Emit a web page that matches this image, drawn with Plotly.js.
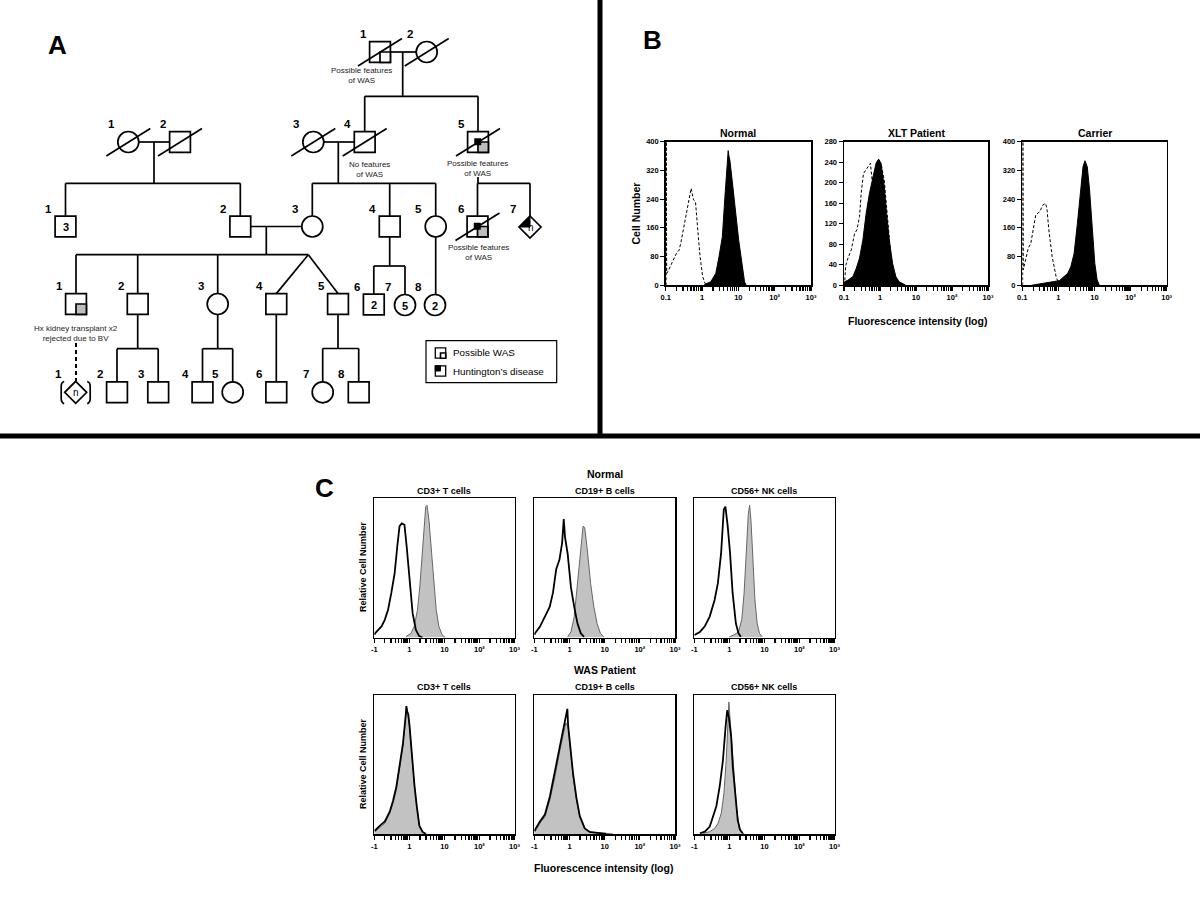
<!DOCTYPE html>
<html><head><meta charset="utf-8">
<script src="https://cdn.plot.ly/plotly-3.0.1.min.js"></script>
<style>body{margin:0;background:#fff}#chart{width:1200px;height:900px}</style>
</head><body><div id="chart"></div>
<script>
// ---------------- DATA ----------------
const decadeLabelsB = ['0.1', '1', '10', '10²', '10³'];
const decadeLabelsC = ['-1', '1', '10', '10²', '10³'];
const yTicksNormal = [0, 80, 160, 240, 320, 400];
const yTicksXLT = [0, 40, 80, 120, 160, 200, 240, 280];
const yTicksCarrier = [0, 80, 160, 240, 320, 400];
const panelBTitles = ['Normal', 'XLT Patient', 'Carrier'];
const panelCCellTypes = ['CD3+ T cells', 'CD19+ B cells', 'CD56+ NK cells'];
const panelCRows = ['Normal', 'WAS Patient'];

// Panel B (x in log10 units, y = cell number)
const bNormalCtrlLog = [-0.99, -0.985, -0.973, -0.93, -0.883, -0.793, -0.703, -0.63, -0.58, -0.52, -0.43, -0.39, -0.30, -0.234, -0.18, -0.117, -0.054, 0.018, 0.09, 0.13];
const bNormalCtrl    = [0, 400, 33, 40, 52, 70, 89, 98, 120, 154, 200, 224, 270, 238, 233, 154, 80, 24, 4, 0];
const bNormalWASpLog = [0.05, 0.108, 0.243, 0.378, 0.468, 0.559, 0.63, 0.694, 0.72, 0.74, 0.766, 0.829, 0.919, 1.009, 1.10, 1.17, 1.216];
const bNormalWASp    = [0, 4, 10, 33, 80, 135, 247, 358, 375, 360, 349, 293, 200, 126, 61, 10, 0];

const bXLTCtrlLog = [-0.985, -0.975, -0.954, -0.89, -0.798, -0.706, -0.642, -0.569, -0.523, -0.459, -0.385, -0.312, -0.266, -0.22, -0.156, -0.064, 0.028, 0.119, 0.211, 0.303, 0.394, 0.486, 0.55];
const bXLTCtrl    = [0, 36, 38, 53, 69, 101, 108, 134, 179, 218, 225, 234, 238, 205, 218, 231, 238, 205, 134, 56, 17, 3, 0];
const bXLTWASpLog = [-0.99, -0.982, -0.89, -0.752, -0.66, -0.569, -0.477, -0.385, -0.294, -0.202, -0.11, -0.06, -0.037, 0.028, 0.119, 0.183, 0.257, 0.349, 0.44, 0.532, 0.67, 0.716];
const bXLTWASp    = [0, 7, 10, 17, 33, 53, 88, 140, 179, 212, 238, 244, 246, 238, 192, 140, 88, 43, 17, 7, 1, 0];

const bCarrierCtrlLog = [-0.99, -0.985, -0.973, -0.909, -0.836, -0.764, -0.7, -0.627, -0.518, -0.427, -0.355, -0.318, -0.264, -0.173, -0.064, 0.0, 0.03];
const bCarrierCtrl    = [0, 400, 43, 71, 103, 117, 154, 196, 205, 224, 228, 214, 154, 80, 24, 4, 0];
const bCarrierWASpLog = [-0.75, -0.7, -0.518, -0.336, -0.155, 0.027, 0.164, 0.255, 0.345, 0.436, 0.527, 0.618, 0.682, 0.736, 0.8, 0.864, 0.936, 1.009, 1.073, 1.136];
const bCarrierWASp    = [0, 1, 4, 7, 10, 13, 24, 33, 52, 89, 173, 275, 330, 347, 330, 265, 154, 61, 15, 0];

// Panel C (relative cell number, %)
const cNormCD3OpenLog = [-0.99, -0.981, -0.888, -0.794, -0.701, -0.607, -0.514, -0.42, -0.346, -0.28, -0.215, -0.14, -0.075, 0.0, 0.093, 0.187, 0.28, 0.374];
const cNormCD3Open    = [2, 3, 5.5, 8, 12.7, 20, 32, 46, 65, 80, 82, 81, 65, 41, 17.5, 5.5, 1, 0];
const cNormCD3FillLog = [-0.093, 0.047, 0.14, 0.234, 0.3, 0.355, 0.411, 0.467, 0.505, 0.561, 0.636, 0.7, 0.766, 0.841, 0.935, 1.028];
const cNormCD3Fill    = [0.7, 3, 8, 20, 37, 56, 80, 94, 95, 84, 60.5, 37, 20, 8, 2, 0];

const cNormCD19OpenLog = [-0.99, -0.981, -0.842, -0.702, -0.563, -0.47, -0.377, -0.284, -0.209, -0.163, -0.126, -0.051, 0.042, 0.135, 0.228, 0.321, 0.414];
const cNormCD19Open    = [2, 3, 7.7, 15, 22, 32, 49, 56, 68, 85, 72, 60, 36, 22, 10, 3, 0.5];
const cNormCD19FillLog = [-0.051, 0.042, 0.135, 0.228, 0.321, 0.386, 0.433, 0.507, 0.6, 0.693, 0.786, 0.879, 0.972];
const cNormCD19Fill    = [0.5, 4, 15, 37, 63, 80, 79, 63, 39, 22, 10, 3, 0.5];

const cNormCD56OpenLog = [-0.99, -0.981, -0.841, -0.701, -0.561, -0.421, -0.327, -0.234, -0.159, -0.112, -0.047, 0.019, 0.093, 0.187, 0.262, 0.327];
const cNormCD56Open    = [1.5, 2, 4, 8, 15, 27, 39, 61, 92, 94, 80, 61, 32, 10, 3, 0.5];
const cNormCD56FillLog = [0.0, 0.14, 0.262, 0.355, 0.421, 0.486, 0.542, 0.579, 0.617, 0.673, 0.729, 0.794, 0.86, 0.935];
const cNormCD56Fill    = [0.5, 2, 4, 13, 32, 68, 89, 95, 84, 56, 27, 10, 3, 0.5];

const cWasCD3OpenLog = [-0.99, -0.981, -0.84, -0.7, -0.559, -0.465, -0.371, -0.277, -0.183, -0.108, -0.085, -0.061, -0.03, 0.005, 0.08, 0.146, 0.211, 0.286, 0.38, 0.474];
const cWasCD3Open    = [2, 2.5, 6, 9, 16, 24, 34, 48, 65, 84, 92, 88, 86, 78, 54, 35, 20, 6, 1.5, 0];
const cWasCD3FillLog = [-0.99, -0.981, -0.84, -0.7, -0.559, -0.465, -0.371, -0.277, -0.183, -0.108, -0.061, 0.005, 0.08, 0.146, 0.211, 0.286, 0.38, 0.474];
const cWasCD3Fill    = [1.5, 1.7, 5.3, 7.7, 15, 22, 32, 46, 63, 85, 90, 77, 53, 34, 20, 5, 1.2, 0];

const cWasCD19OpenLog = [-0.99, -0.981, -0.84, -0.698, -0.557, -0.415, -0.274, -0.179, -0.104, -0.06, -0.038, 0.028, 0.104, 0.198, 0.292, 0.434, 0.575, 0.8, 1.047];
const cWasCD19Open    = [2, 3, 9, 14, 27, 45, 63, 75, 82, 90, 78, 62, 43, 26, 13, 4, 1.5, 0.8, 0];
const cWasCD19FillLog = [-0.99, -0.981, -0.84, -0.698, -0.557, -0.415, -0.274, -0.179, -0.104, -0.038, 0.028, 0.104, 0.198, 0.292, 0.434, 0.575, 1.047, 1.236];
const cWasCD19Fill    = [1.5, 1.7, 7.7, 12.5, 24.5, 41, 60, 72, 80, 77, 60, 41, 24.5, 12.5, 4, 1.2, 0.5, 0];

const cWasCD56OpenLog = [-0.84, -0.7, -0.559, -0.465, -0.371, -0.277, -0.183, -0.108, -0.061, -0.014, 0.052, 0.099, 0.174, 0.239, 0.305, 0.38];
const cWasCD56Open    = [0.5, 1.7, 5.3, 12.5, 20, 34, 53, 77, 89, 84, 70, 48, 24.5, 10, 3, 0.5];
const cWasCD56FillLog = [-0.746, -0.559, -0.418, -0.324, -0.23, -0.155, -0.089, -0.042, -0.014, 0.023, 0.08, 0.146, 0.211, 0.286, 0.361, 0.427];
const cWasCD56Fill    = [0.5, 1.7, 4, 7.7, 15, 29, 53, 77, 95, 82, 63, 39, 17, 4, 1, 0];

// Pedigree (panel A)
const pedIds    = ['I-1','I-2','II-1','II-2','II-3','II-4','II-5','III-1','III-2','III-3','III-4','III-5','III-6','III-7','IV-1','IV-2','IV-3','IV-4','IV-5','IV-6','IV-7','IV-8','V-1','V-2','V-3','V-4','V-5','V-6','V-7','V-8'];
const pedLabels = ['1','2','1','2','3','4','5','1','2','3','4','5','6','7','1','2','3','4','5','6','7','8','1','2','3','4','5','6','7','8'];
const pedSex    = ['M','F','F','M','F','M','M','M','M','F','M','F','M','U','M','M','F','M','M','M','F','F','U','M','M','M','F','M','F','M'];
const pedDeceased = [1,1,1,1,1,1,1,0,0,0,0,0,1,0,0,0,0,0,0,0,0,0,0,0,0,0,0,0,0,0];
const pedWAS    = ['open','','','','','','gray','','','','','','gray','','gray','','','','','','','','','','','','','','',''];
const pedHD     = [0,0,0,0,0,0,1,0,0,0,0,0,1,1,0,0,0,0,0,0,0,0,0,0,0,0,0,0,0,0];
const pedCount  = ['','','','','','','','3','','','','','','n','','','','','','2','5','2','n','','','','','','',''];
const pedX = [380, 426.7, 128.3, 180, 313.3, 364.7, 478, 65.5, 240.3, 312.3, 389.7, 435.7, 477.5, 530, 76, 137.7, 217.7, 276.3, 338, 373.8, 405, 435, 75.7, 117, 158.2, 202.5, 232.7, 276.3, 322.7, 358.7];
const pedY = [52, 52, 142, 142, 142, 142, 142, 226.5, 226.5, 226.5, 226.5, 226.5, 226.5, 227, 304, 304, 304, 304, 304, 304.5, 305, 305, 392.3, 392.3, 392.3, 392.3, 392.3, 392.3, 392.3, 392.3];
const pedNotes = {'I-1': 'Possible features<br>of WAS', 'II-4': 'No features<br>of WAS', 'II-5': 'Possible features<br>of WAS', 'III-6': 'Possible features<br>of WAS', 'IV-1': 'Hx kidney transplant x2<br>rejected due to BV'};

const famParents  = [['I-1','I-2'], ['II-1','II-2'], ['II-3','II-4'], ['II-5'], ['III-2','III-3'], ['III-4'], ['III-5'], ['IV-1'], ['IV-2'], ['IV-3'], ['IV-4'], ['IV-5']];
const famChildren = [['II-4','II-5'], ['III-1','III-2'], ['III-3','III-4','III-5'], ['III-6','III-7'], ['IV-1','IV-2','IV-3','IV-4','IV-5'], ['IV-6','IV-7'], ['IV-8'], ['V-1'], ['V-2','V-3'], ['V-4','V-5'], ['V-6'], ['V-7','V-8']];
const famDropX    = [402.7, 154, 338.3, null, 266.3, null, null, null, null, null, null, null];
const famSibY     = [96.3, 183.3, 183.3, 183.3, 254.7, 266, null, null, 348.7, 348.7, null, 348.5];
const famTwins    = [[], [], [], [], ['IV-4','IV-5'], [], [], [], [], [], [], []];
const famTwinX    = [null, null, null, null, 308.3, null, null, null, null, null, null, null];
const famDropFromY = [null, null, null, 177, null, null, null, 343, null, null, null, null];
const famDashed   = [0, 0, 0, 0, 0, 0, 0, 1, 0, 0, 0, 0];

const legendItems = ['Possible WAS', 'Huntington’s disease'];

// ---------------- BUILD ----------------
const FONT = 'Liberation Sans, Arial, sans-serif';
const W = 1200, H = 900;
const px = v => v / W, py = v => 1 - v / H;

const tickVals = [];
function logTickText(labels) {
  const t = [];
  for (let d = -1; d < 3; d++) for (let m = 1; m < 10; m++) t.push(m === 1 ? labels[d + 1] : '');
  t.push(labels[4]);
  return t;
}
for (let d = -1; d < 3; d++) for (let m = 1; m < 10; m++) tickVals.push(m * Math.pow(10, d));
tickVals.push(1000);

function logAxis(x0, x1, anchor, labels) {
  return {domain: [px(x0), px(x1)], anchor, type: 'log', range: [-1, 3], tickmode: 'array',
    tickvals: tickVals, ticktext: logTickText(labels), ticks: 'outside', ticklen: 4, tickwidth: 1.2,
    tickcolor: '#000', showline: true, linecolor: '#000', linewidth: 1.5, mirror: true,
    showgrid: false, zeroline: false, fixedrange: true,
    tickfont: {family: FONT, size: 7.5, color: '#000', weight: 'bold'}};
}
function linAxisB(y0, y1, anchor, tv) {
  return {domain: [py(y1), py(y0)], anchor, range: [0, tv[tv.length - 1]], tickmode: 'array', tickvals: tv,
    ticks: 'outside', ticklen: 4, tickwidth: 1.2, tickcolor: '#000', showline: true, linecolor: '#000',
    linewidth: 1.5, mirror: true, showgrid: false, zeroline: false, fixedrange: true,
    tickfont: {family: FONT, size: 7.5, color: '#000', weight: 'bold'}};
}
function linAxisC(y0, y1, anchor) {
  return {domain: [py(y1), py(y0)], anchor, range: [0, 100], showticklabels: false, ticks: '',
    showline: true, linecolor: '#000', linewidth: 1.5, mirror: true, showgrid: false, zeroline: false, fixedrange: true};
}

const traces = [];
function curve(logs, vals, n, style) {
  traces.push(Object.assign({x: logs.map(v => Math.pow(10, v)), y: vals, xaxis: 'x' + (n === 1 ? '' : n),
    yaxis: 'y' + (n === 1 ? '' : n), mode: 'lines', hoverinfo: 'skip', showlegend: false}, style));
}
const blackFill = {fill: 'tozeroy', fillcolor: '#000', line: {color: '#000', width: 1}};
const dashCtrl = {line: {color: '#000', width: 1, dash: '3px,2px'}};
const grayFill = {fill: 'tozeroy', fillcolor: '#c2c2c2', line: {color: '#666', width: 1}};
const openLine = {line: {color: '#000', width: 1.8}};

curve(bNormalWASpLog, bNormalWASp, 1, blackFill);
curve(bNormalCtrlLog, bNormalCtrl, 1, dashCtrl);
curve(bXLTWASpLog, bXLTWASp, 2, blackFill);
curve(bXLTCtrlLog, bXLTCtrl, 2, dashCtrl);
curve(bCarrierWASpLog, bCarrierWASp, 3, blackFill);
curve(bCarrierCtrlLog, bCarrierCtrl, 3, dashCtrl);

curve(cNormCD3FillLog, cNormCD3Fill, 4, grayFill);
curve(cNormCD3OpenLog, cNormCD3Open, 4, openLine);
curve(cNormCD19FillLog, cNormCD19Fill, 5, grayFill);
curve(cNormCD19OpenLog, cNormCD19Open, 5, openLine);
curve(cNormCD56FillLog, cNormCD56Fill, 6, grayFill);
curve(cNormCD56OpenLog, cNormCD56Open, 6, openLine);
curve(cWasCD3FillLog, cWasCD3Fill, 7, grayFill);
curve(cWasCD3OpenLog, cWasCD3Open, 7, openLine);
curve(cWasCD19FillLog, cWasCD19Fill, 8, grayFill);
curve(cWasCD19OpenLog, cWasCD19Open, 8, openLine);
curve(cWasCD56FillLog, cWasCD56Fill, 9, grayFill);
curve(cWasCD56OpenLog, cWasCD56Open, 9, openLine);

// overlay axis in pixel units for pedigree and labels
traces.push({x: [0], y: [0], xaxis: 'x10', yaxis: 'y10', mode: 'markers', marker: {opacity: 0}, hoverinfo: 'skip', showlegend: false});

const layout = {
  width: W, height: H, margin: {l: 0, r: 0, t: 0, b: 0}, paper_bgcolor: '#fff', plot_bgcolor: 'rgba(0,0,0,0)',
  showlegend: false, font: {family: FONT, color: '#000'},
  xaxis: logAxis(665.7, 811, 'y', decadeLabelsB), yaxis: linAxisB(141.7, 285.3, 'x', yTicksNormal),
  xaxis2: logAxis(844, 988, 'y2', decadeLabelsB), yaxis2: linAxisB(141.7, 285.3, 'x2', yTicksXLT),
  xaxis3: logAxis(1022.3, 1166.7, 'y3', decadeLabelsB), yaxis3: linAxisB(141.7, 285.3, 'x3', yTicksCarrier),
  xaxis4: logAxis(374.3, 514.5, 'y4', decadeLabelsC), yaxis4: linAxisC(498.3, 637.5, 'x4'),
  xaxis5: logAxis(534.3, 675, 'y5', decadeLabelsC), yaxis5: linAxisC(498.3, 637.5, 'x5'),
  xaxis6: logAxis(694.3, 834.5, 'y6', decadeLabelsC), yaxis6: linAxisC(498.3, 637.5, 'x6'),
  xaxis7: logAxis(374.3, 514.5, 'y7', decadeLabelsC), yaxis7: linAxisC(695, 834, 'x7'),
  xaxis8: logAxis(534.3, 675, 'y8', decadeLabelsC), yaxis8: linAxisC(695, 834, 'x8'),
  xaxis9: logAxis(694.3, 834.5, 'y9', decadeLabelsC), yaxis9: linAxisC(695, 834, 'x9'),
  xaxis10: {domain: [0, 1], range: [0, W], visible: false, fixedrange: true, anchor: 'y10'},
  yaxis10: {domain: [0, 1], range: [H, 0], visible: false, fixedrange: true, anchor: 'x10'},
  shapes: [], annotations: []
};
const S = layout.shapes, A = layout.annotations;
const LW = 1.7;
function seg(x0, y0, x1, y1, w, dash) {
  S.push({type: 'line', xref: 'x10', yref: 'y10', x0, y0, x1, y1, line: {color: '#000', width: w || LW, dash: dash || 'solid'}});
}
function txt(x, y, text, size, opt) {
  A.push(Object.assign({xref: 'x10', yref: 'y10', x, y, text, showarrow: false, xanchor: 'center', yanchor: 'middle',
    font: {family: FONT, size, color: '#000'}}, opt || {}));
}
function boldTxt(x, y, text, size, opt) {
  txt(x, y, text, size, Object.assign({font: {family: FONT, size, color: '#000', weight: 'bold'}}, opt || {}));
}

// dividers
seg(600, 0, 600, 436, 5);
seg(0, 436, 1200, 436, 5);

// pedigree
const HS = 10.4, HR = 10.5, HD = 11;
const idx = id => pedIds.indexOf(id);
const half = i => pedSex[i] === 'M' ? HS : (pedSex[i] === 'F' ? HR : HD);

famParents.forEach((par, f) => {
  const kids = famChildren[f].map(idx);
  const twins = famTwins[f];
  let dropX, dropY0;
  if (par.length === 2) {
    const a = idx(par[0]), b = idx(par[1]);
    const L = pedX[a] < pedX[b] ? a : b, R = L === a ? b : a;
    seg(pedX[L] + half(L), pedY[L], pedX[R] - half(R), pedY[R]);
    dropX = famDropX[f]; dropY0 = pedY[L];
  } else {
    const p = idx(par[0]);
    dropX = pedX[p];
    dropY0 = famDropFromY[f] != null ? famDropFromY[f] : pedY[p] + half(p);
  }
  const dash = famDashed[f] ? '4px,3px' : 'solid';
  const sibY = famSibY[f];
  if (sibY == null) {
    const k = kids[0];
    seg(dropX, dropY0, dropX, pedY[k] - half(k), famDashed[f] ? 2 : LW, dash);
    return;
  }
  seg(dropX, dropY0, dropX, sibY);
  const xs = [dropX];
  kids.forEach(k => {
    if (twins.indexOf(pedIds[k]) >= 0) {
      seg(famTwinX[f], sibY, pedX[k], pedY[k] - half(k));
      xs.push(famTwinX[f]);
    } else {
      seg(pedX[k], sibY, pedX[k], pedY[k] - half(k));
      xs.push(pedX[k]);
    }
  });
  seg(Math.min(...xs), sibY, Math.max(...xs), sibY);
});

pedIds.forEach((id, i) => {
  const cx = pedX[i], cy = pedY[i], h = half(i);
  const base = {xref: 'x10', yref: 'y10', line: {color: '#000', width: LW}, fillcolor: '#fff'};
  if (pedSex[i] === 'M') S.push(Object.assign({type: 'rect', x0: cx - h, x1: cx + h, y0: cy - h, y1: cy + h}, base));
  else if (pedSex[i] === 'F') S.push(Object.assign({type: 'circle', x0: cx - h, x1: cx + h, y0: cy - h, y1: cy + h}, base));
  else S.push(Object.assign({type: 'path', path: `M ${cx},${cy - h} L ${cx + h},${cy} L ${cx},${cy + h} L ${cx - h},${cy} Z`}, base));
  if (pedWAS[i]) {
    S.push({type: 'rect', xref: 'x10', yref: 'y10', x0: cx, x1: cx + h, y0: cy, y1: cy + h,
      fillcolor: pedWAS[i] === 'gray' ? '#bdbdbd' : '#fff', line: {color: '#000', width: LW}});
  }
  if (pedHD[i]) {
    if (pedSex[i] === 'U') {
      S.push({type: 'path', xref: 'x10', yref: 'y10', path: `M ${cx - h},${cy} L ${cx},${cy - h} L ${cx},${cy} Z`,
        fillcolor: '#000', line: {color: '#000', width: 1}});
    } else {
      S.push({type: 'rect', xref: 'x10', yref: 'y10', x0: cx - 3.5, x1: cx + 3, y0: cy - 3.5, y1: cy + 3,
        fillcolor: '#000', line: {color: '#000', width: 0.5}});
    }
  }
  if (pedDeceased[i]) seg(cx - 22, cy + 14, cx + 22, cy - 13.5, LW);
  if (pedCount[i]) boldTxt(cx + (pedCount[i] === 'n' ? 0.5 : 0), cy + 0.5, pedCount[i], pedCount[i] === 'n' ? 10 : 11,
    pedCount[i] === 'n' ? {font: {family: FONT, size: 10, color: '#000'}} : {});
  boldTxt(cx - 17, cy - 18, pedLabels[i], 11.5);
  if (pedNotes[id]) {
    const noteY = {'I-1': 75.3, 'II-4': 169, 'II-5': 168.7, 'III-6': 252.5, 'IV-1': 333}[id];
    const noteX = {'I-1': 361.7, 'II-4': 369.3, 'II-5': 477.7, 'III-6': 478, 'IV-1': 75.7}[id];
    txt(noteX, noteY, pedNotes[id], 8, {font: {family: FONT, size: 8, color: '#222'}});
  }
});
// brackets around V-1
(function () {
  const i = idx('V-1'), cx = pedX[i], cy = pedY[i];
  S.push({type: 'path', xref: 'x10', yref: 'y10', path: `M ${cx - 11.5},${cy - 10.8} Q ${cx - 14.5},${cy - 10} ${cx - 14.5},${cy - 6} L ${cx - 14.5},${cy + 6} Q ${cx - 14.5},${cy + 10.5} ${cx - 11.5},${cy + 11.3}`, line: {color: '#000', width: LW}});
  S.push({type: 'path', xref: 'x10', yref: 'y10', path: `M ${cx + 11.5},${cy - 10.8} Q ${cx + 14.5},${cy - 10} ${cx + 14.5},${cy - 6} L ${cx + 14.5},${cy + 6} Q ${cx + 14.5},${cy + 10.5} ${cx + 11.5},${cy + 11.3}`, line: {color: '#000', width: LW}});
})();

// legend box
S.push({type: 'rect', xref: 'x10', yref: 'y10', x0: 426, x1: 556.7, y0: 340.7, y1: 382.7, line: {color: '#000', width: 1.2}, fillcolor: 'rgba(0,0,0,0)'});
S.push({type: 'rect', xref: 'x10', yref: 'y10', x0: 435.3, x1: 445.7, y0: 347.8, y1: 358.2, line: {color: '#000', width: 1.3}, fillcolor: '#fff'});
S.push({type: 'rect', xref: 'x10', yref: 'y10', x0: 440.5, x1: 445.7, y0: 353, y1: 358.2, line: {color: '#000', width: 1.6}, fillcolor: '#fff'});
S.push({type: 'rect', xref: 'x10', yref: 'y10', x0: 435.3, x1: 445.7, y0: 365.8, y1: 376.2, line: {color: '#000', width: 1.3}, fillcolor: '#fff'});
S.push({type: 'rect', xref: 'x10', yref: 'y10', x0: 435.3, x1: 440.5, y0: 365.8, y1: 371, line: {color: '#000', width: 1}, fillcolor: '#000'});
txt(450.7, 352.8, legendItems[0], 9.8, {xanchor: 'left'});
txt(450.7, 371.2, legendItems[1], 9.8, {xanchor: 'left'});

// panel letters
boldTxt(57, 45, 'A', 26);
boldTxt(652, 40, 'B', 26);
boldTxt(324, 488, 'C', 26);

// panel B texts
[738.3, 916, 1094.5].forEach((x, k) => boldTxt(x, 133, panelBTitles[k], 10.5));
boldTxt(635, 213.5, 'Cell Number', 10.5, {textangle: -90});
boldTxt(917, 320.5, 'Fluorescence intensity (log)', 10.5);

// panel C texts
boldTxt(604.5, 474, panelCRows[0], 10.5);
boldTxt(604.5, 670, panelCRows[1], 10.5);
[444, 604.5, 764.3].forEach((x, k) => { boldTxt(x, 491, panelCCellTypes[k], 9); boldTxt(x, 687, panelCCellTypes[k], 9); });
boldTxt(363, 567, 'Relative Cell Number', 9, {textangle: -90});
boldTxt(363, 764, 'Relative Cell Number', 9, {textangle: -90});
boldTxt(603.5, 868, 'Fluorescence intensity (log)', 10.5);

Plotly.newPlot('chart', traces, layout, {staticPlot: true, displayModeBar: false});
</script></body></html>
